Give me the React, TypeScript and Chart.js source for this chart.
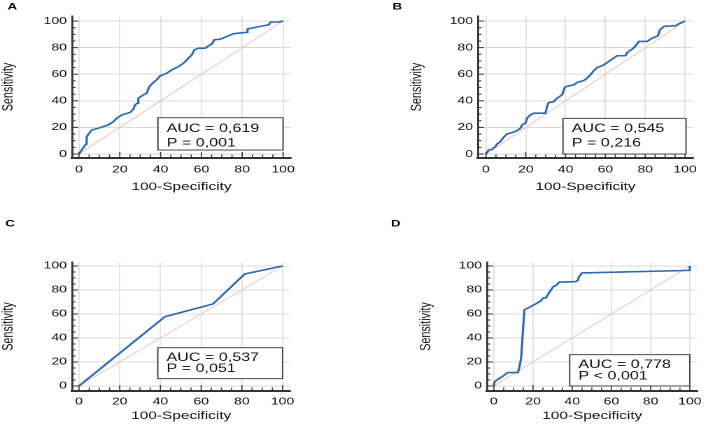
import React, { useEffect, useRef } from 'react';
import { Chart, registerables } from 'chart.js';

Chart.register(...registerables);

// ---------- data ----------
const TICK_VALUES = [0, 20, 40, 60, 80, 100];
const TICK_LABELS = ['0', '20', '40', '60', '80', '100'];
const DIAG_X = [0, 100];
const DIAG_Y = [0, 100];

const fprA = [0, 3.4, 3.8, 4.2, 6.2, 10.3, 14.4, 16.9, 18.5, 21, 25, 26.7, 27.5, 28.6, 29.1, 31.6, 33.2, 34.5, 36.5, 38.1, 39.8, 43, 45.5, 48.8, 51.2, 53.7, 55.3, 56.6, 58.6, 61.9, 63.5, 65.1, 66.3, 69.3, 72.5, 75.8, 82.3, 82.6, 88.9, 93, 93.8, 97.9, 100];
const tprA = [0, 7.5, 12.6, 14, 18, 19.8, 21.9, 24.4, 26.9, 29.4, 31.2, 33.7, 37, 38.2, 42, 44.5, 45.7, 50.8, 53.8, 55.8, 58.8, 60.8, 63.3, 65.8, 68.3, 72.1, 74.6, 78.4, 79.6, 79.6, 81.4, 82.7, 85.9, 86.4, 88.4, 90.5, 91.5, 94, 96, 97.2, 99.2, 99.2, 100];

const fprB = [0, 1.3, 3, 4.7, 5.5, 7.2, 8.9, 10.6, 13.1, 15.6, 17.3, 18.1, 19.8, 20.6, 22.3, 24, 29.9, 30.7, 31.5, 34.1, 35.7, 38.3, 39.6, 41.6, 44.1, 45.8, 49.2, 50.8, 52.9, 54.2, 55.9, 58.4, 60.9, 63.4, 65.9, 70.1, 71, 73.5, 75.2, 76.8, 81, 83.6, 86.4, 87.4, 89.4, 95.3, 97, 100];
const tprB = [0, 3, 3.5, 5.5, 7.5, 9.3, 12.6, 15.1, 16.1, 17.6, 19.3, 21.9, 23.1, 26.9, 29.4, 30.7, 30.7, 35.7, 38.7, 39.4, 42, 44.5, 50.3, 51.3, 52, 53.8, 55.3, 57, 60.3, 62.8, 65.1, 66.3, 68.8, 71.4, 73.9, 73.9, 76.4, 78.9, 81.4, 84.7, 84.7, 87.2, 88.9, 93.5, 96, 96.5, 98, 100];

const fprC = [0, 42.2, 65.8, 81.4, 100];
const tprC = [0, 57.7, 68.3, 93.3, 100];

const fprD = [0, 0.4, 2, 4.5, 7, 12.3, 13.2, 13.9, 14.8, 15.6, 18.5, 21.5, 24, 25, 26.5, 28.5, 30.2, 32, 33.3, 41.8, 42.8, 43.5, 45, 100, 100];
const tprD = [0, 3.5, 5.5, 8, 11.2, 11.2, 17, 23, 45, 63.5, 65.8, 68.5, 71, 73.2, 73.2, 78.5, 82.6, 84, 86.5, 87, 88, 91, 94.2, 96.3, 100];

const LETTERS = ['A', 'B', 'C', 'D'];
const AUC_LINES = ['AUC = 0,619', 'AUC = 0,545', 'AUC = 0,537', 'AUC = 0,778'];
const P_LINES = ['P = 0,001', 'P = 0,216', 'P = 0,051', 'P < 0,001'];
const X_TITLE = '100-Specificity';
const Y_TITLE = 'Sensitivity';

// ---------- layout ----------
const CW = 253; // internal canvas width (stretched to 354 css px)
const CH = 212;
const S = CW / 354;
const FONT = '"Liberation Sans", Arial, Helvetica, sans-serif';
const BLUE = '#2c69b4';
const AXIS = '#333333';
const GRID = '#dadada';
const TEXT = '#111111';

type Cfg = {
  idx: number; left: number; top: number; fpr: number[]; tpr: number[];
  padL: number; yW: number; padR: number; padT: number; xH: number; padB: number;
  xMin: number; xMax: number; yMin: number; yMax: number; xPad: number;
  box: [number, number, number, number]; lineOff: [number, number]; letter: [number, number];
};

const panels: Cfg[] = [
  { idx: 0, left: 0, top: 0, fpr: fprA, tpr: tprA, padL: 0.5, yW: 72 * S - 0.5, padR: CW - 291 * S, padT: 16, xH: 34.5, padB: 19.5,
    xMin: -3.4, xMax: 103.9, yMin: -3.0, yMax: 103.8, xPad: 5.5, box: [38.7, 100, 27.3, 3], lineOff: [11, 25.5], letter: [12.3, 6.7] },
  { idx: 1, left: 354, top: 0, fpr: fprB, tpr: tprB, padL: 39.8, yW: 124 * S - 39.8, padR: CW - 339 * S, padT: 16, xH: 34.5, padB: 19.5,
    xMin: -4, xMax: 104, yMin: -3.0, yMax: 103.8, xPad: 5.5, box: [38.7, 100.5, 26.8, 0], lineOff: [10.5, 25], letter: [43.3, 6.7] },
  { idx: 2, left: 0, top: 212, fpr: fprC, tpr: tprC, padL: 0.5, yW: 72 * S - 0.5, padR: CW - 290.5 * S, padT: 50, xH: 30.5, padB: 2.5,
    xMin: -3.44, xMax: 103.9, yMin: -4.2, yMax: 103.3, xPad: 4.5, box: [38.7, 100, 31.9, 6.1], lineOff: [10, 21], letter: [10, 11.7] },
  { idx: 3, left: 354, top: 212, fpr: fprD, tpr: tprD, padL: 46, yW: 133 * S - 46, padR: CW - 346.7 * S, padT: 50, xH: 30.5, padB: 2.5,
    xMin: -3.5, xMax: 103.9, yMin: -4.2, yMax: 103.3, xPad: 4.5, box: [38.7, 100, 26.1, 0], lineOff: [10, 21.6], letter: [41.7, 11.7] },
];

function zip(xs: number[], ys: number[]) {
  return xs.map((x, i) => ({ x, y: ys[i] }));
}

function makeDecor(cfg: Cfg) {
  return {
    id: 'decor' + cfg.idx,
    afterDraw(chart: any) {
      const ctx = chart.ctx as CanvasRenderingContext2D;
      const xs = chart.scales.x;
      const ys = chart.scales.y;
      const area = chart.chartArea;
      ctx.save();
      // inward tick marks
      ctx.strokeStyle = AXIS;
      for (let v = 0; v <= 100; v += 5) {
        const major = v % 20 === 0;
        const len = major ? 6 : 3.5;
        const px = xs.getPixelForValue(v);
        ctx.lineWidth = 0.8;
        ctx.beginPath();
        ctx.moveTo(px, area.bottom);
        ctx.lineTo(px, area.bottom - len);
        ctx.stroke();
        const py = ys.getPixelForValue(v);
        ctx.lineWidth = 1;
        ctx.beginPath();
        ctx.moveTo(area.left, py);
        ctx.lineTo(area.left + len * S, py);
        ctx.stroke();
      }
      // AUC box
      const [bx0, bx1, byT, byB] = cfg.box;
      const l = xs.getPixelForValue(bx0);
      const r = xs.getPixelForValue(bx1);
      const t = ys.getPixelForValue(byT);
      const b = ys.getPixelForValue(byB);
      ctx.fillStyle = '#ffffff';
      ctx.fillRect(l, t, r - l, b - t);
      ctx.strokeStyle = '#4a4a4a';
      ctx.lineWidth = 1;
      ctx.strokeRect(l, t, r - l, b - t);
      ctx.fillStyle = TEXT;
      ctx.font = `11.5px ${FONT}`;
      ctx.textAlign = 'left';
      ctx.textBaseline = 'middle';
      ctx.fillText(AUC_LINES[cfg.idx], l + 8.7 * S, t + cfg.lineOff[0]);
      ctx.fillText(P_LINES[cfg.idx], l + 8.7 * S, t + cfg.lineOff[1]);
      // panel letter
      ctx.font = `bold 9.5px ${FONT}`;
      ctx.textAlign = 'center';
      ctx.fillStyle = '#000';
      ctx.fillText(LETTERS[cfg.idx], cfg.letter[0] * S, cfg.letter[1]);
      ctx.restore();
    },
  };
}

function Panel({ cfg }: { cfg: Cfg }) {
  const ref = useRef<HTMLCanvasElement>(null);
  useEffect(() => {
    const canvas = ref.current!;
    const chart = new Chart(canvas, {
      type: 'scatter',
      data: {
        datasets: [
          { data: zip(cfg.fpr, cfg.tpr), borderColor: BLUE, borderWidth: 1.6, showLine: true, pointRadius: 0, tension: 0, fill: false },
          { data: zip(DIAG_X, DIAG_Y), borderColor: '#efc4c4', borderWidth: 0.9, showLine: true, pointRadius: 0, fill: false },
        ],
      } as any,
      options: {
        responsive: false,
        animation: false,
        devicePixelRatio: 2,
        events: [],
        layout: { padding: { left: cfg.padL, right: cfg.padR, top: cfg.padT, bottom: cfg.padB } },
        plugins: { legend: { display: false }, tooltip: { enabled: false } },
        scales: {
          x: {
            type: 'linear',
            min: cfg.xMin,
            max: cfg.xMax,
            afterBuildTicks: (s: any) => { s.ticks = TICK_VALUES.map((v) => ({ value: v })); },
            afterFit: (s: any) => { s.height = cfg.xH; },
            ticks: {
              callback: (_v: any, i: number) => TICK_LABELS[i],
              font: { family: FONT, size: 10 },
              color: TEXT,
              padding: cfg.xPad,
              maxRotation: 0,
              autoSkip: false,
              includeBounds: false,
            },
            grid: { color: GRID, lineWidth: 0.75, drawTicks: false },
            border: { display: true, color: AXIS, width: 2 },
            title: { display: true, text: X_TITLE, font: { family: FONT, size: 11, lineHeight: 1 }, color: TEXT, padding: 0 },
          },
          y: {
            type: 'linear',
            min: cfg.yMin,
            max: cfg.yMax,
            afterBuildTicks: (s: any) => { s.ticks = TICK_VALUES.map((v) => ({ value: v })); },
            afterFit: (s: any) => { s.width = cfg.yW; },
            ticks: {
              callback: (_v: any, i: number) => TICK_LABELS[i],
              font: { family: FONT, size: 10 },
              color: TEXT,
              padding: 3.6,
              autoSkip: false,
              includeBounds: false,
            },
            grid: { color: GRID, lineWidth: 1, drawTicks: false },
            border: { display: true, color: AXIS, width: 1.4 },
            title: { display: true, text: Y_TITLE, font: { family: FONT, size: 10.8, lineHeight: 1 }, color: TEXT, padding: 0 },
          },
        },
      } as any,
      plugins: [makeDecor(cfg)],
    });
    return () => chart.destroy();
  }, [cfg]);
  return (
    <canvas
      ref={ref}
      width={CW}
      height={CH}
      style={{ position: 'absolute', left: cfg.left, top: cfg.top, width: '354px', height: '212px' }}
    />
  );
}

export default function App() {
  return (
    <div style={{ position: 'fixed', left: 0, top: 0, width: 708, height: 424, background: '#ffffff', overflow: 'hidden' }}>
      {panels.map((p) => (
        <Panel key={p.idx} cfg={p} />
      ))}
    </div>
  );
}
